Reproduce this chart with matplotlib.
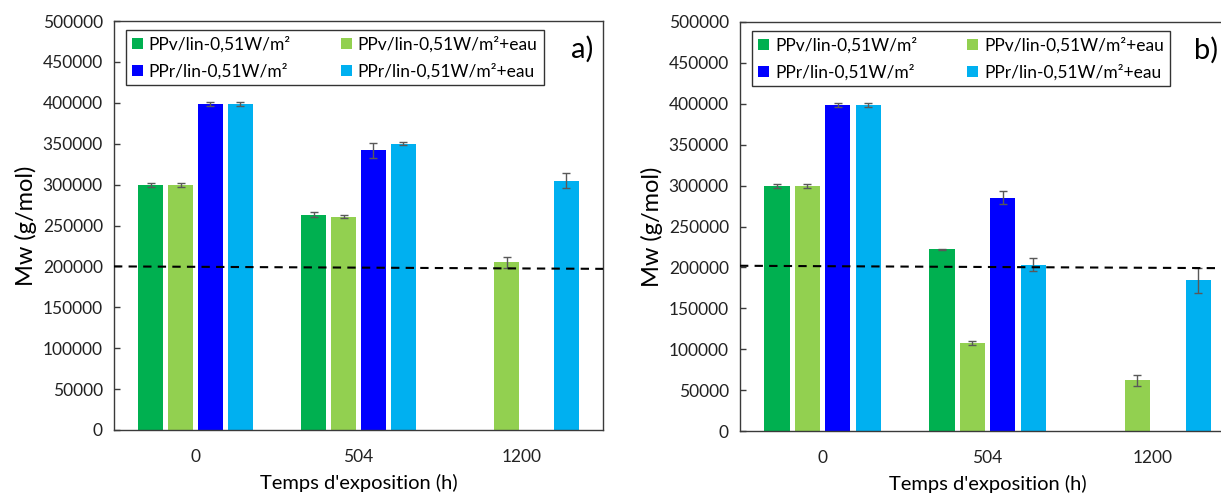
import matplotlib
matplotlib.use("Agg")
import matplotlib.pyplot as plt
import numpy as np

plt.rcParams['font.family'] = ['Lato', 'DejaVu Sans']

temps = ['0', '504', '1200']
series = ['PPv/lin-0,51W/m²', 'PPv/lin-0,51W/m²+eau',
          'PPr/lin-0,51W/m²', 'PPr/lin-0,51W/m²+eau']
colors = ['#00B050', '#92D050', '#0000FF', '#00B0F0']

# panel a) -- nan = no bar
mw_a = [[300000, 263000, np.nan],
        [300000, 261000, 205000],
        [398000, 342000, np.nan],
        [398000, 350000, 305000]]
err_a = [[2500, 3000, 0],
         [2500, 1500, 7000],
         [2500, 9000, 0],
         [2500, 1500, 9000]]
seuil_a = [200000, 197000]

# panel b)
mw_b = [[300000, 222000, np.nan],
        [300000, 108000, 62000],
        [398000, 285000, np.nan],
        [398000, 203000, 184000]]
err_b = [[2500, 1000, 0],
         [2500, 2500, 7000],
         [2500, 8000, 0],
         [2500, 8000, 15000]]
seuil_b = [202000, 199000]


def panel(ax, mw, err, seuil, tag, tag_x):
    x = np.arange(len(temps))
    pitch = 0.184
    bars = []
    for i in range(len(series)):
        vals = np.array(mw[i], dtype=float)
        b = ax.bar(x + (i - 1.5) * pitch, vals, width=0.152, color=colors[i],
                   label=series[i], zorder=2)
        bars.append(b)
        ok = ~np.isnan(vals)
        ax.errorbar((x + (i - 1.5) * pitch)[ok], vals[ok],
                    yerr=np.array(err[i])[ok], fmt='none', ecolor='#595959',
                    elinewidth=1, capsize=3, capthick=1, zorder=3)
    ax.plot([-0.5, 2.5], seuil, color='black', ls=(0, (4, 3)), lw=1.5, zorder=4)
    ax.set_xlim(-0.5, 2.5)
    ax.set_ylim(0, 500000)
    ax.set_yticks(np.arange(0, 500001, 50000))
    ax.set_xticks(x)
    ax.set_xticklabels(temps)
    ax.tick_params(axis='x', length=0, labelsize=12.5, colors='#222222', pad=14)
    ax.tick_params(axis='y', direction='in', length=4, width=1, color='#3a3a3a',
                   labelsize=12.5, labelcolor='#222222', pad=8)
    for s in ax.spines.values():
        s.set_color('#3a3a3a')
        s.set_linewidth(1)
    ax.set_ylabel('Mw (g/mol)', fontsize=17, labelpad=4)
    ax.set_xlabel("Temps d'exposition (h)", fontsize=14.5, labelpad=6)
    # row order like excel: PPv, PPv+eau / PPr, PPr+eau
    order = [0, 2, 1, 3]
    leg = ax.legend([bars[k] for k in order], [series[k] for k in order],
                    loc='upper left', ncol=2, fontsize=12.5, frameon=True,
                    fancybox=False, edgecolor='black', handlelength=0.6,
                    handleheight=0.6, handletextpad=0.35, columnspacing=2.9,
                    borderpad=0.35, labelspacing=0.6, borderaxespad=0,
                    bbox_to_anchor=(0.025, 0.978))
    leg.get_frame().set_linewidth(1)
    ax.text(tag_x, 466000, tag, fontsize=21, ha='right', va='center')


fig = plt.figure(figsize=(12.21, 4.95), dpi=100)
ax1 = fig.add_axes([114 / 1221, 1 - 430 / 495, 489 / 1221, 409 / 495])
ax2 = fig.add_axes([740 / 1221, 1 - 431 / 495, 495 / 1221, 409 / 495])
panel(ax1, mw_a, err_a, seuil_a, 'a)', 2.44)
panel(ax2, mw_b, err_b, seuil_b, 'b)', 2.40)

fig.savefig('out.png', dpi=100)
